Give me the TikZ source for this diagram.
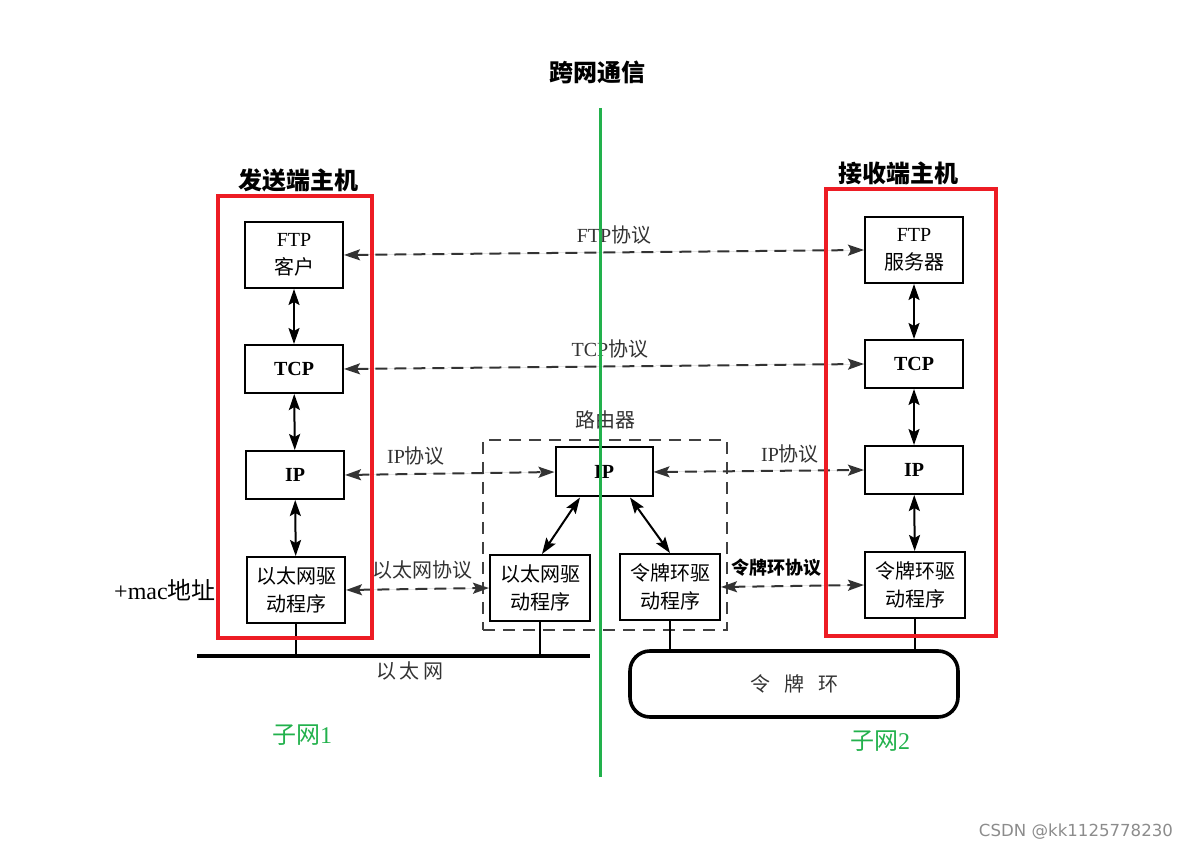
\documentclass[tikz,border=0pt]{standalone}
\usepackage{fontspec}
\setmainfont{Liberation Serif}
\newfontfamily\cjk{Noto Sans CJK SC}
\newfontfamily\wmfont{DejaVu Sans}
\usetikzlibrary{arrows.meta}
\newcommand{\zh}[1]{{\cjk #1}}
\definecolor{hostred}{RGB}{237,28,36}
\definecolor{netgreen}{RGB}{34,177,76}
\tikzset{
  layer/.style={draw, line width=1pt, fill=white, align=center, inner sep=0pt,
    minimum width=49pt, font=\fontsize{10}{14}\selectfont},
  tall/.style={layer, minimum height=33pt},
  flat/.style={layer, minimum height=24pt},
  link/.style={{Stealth[length=8pt,width=5.5pt,inset=1.5pt]}-{Stealth[length=8pt,width=5.5pt,inset=1.5pt]}, line width=1pt},
  proto/.style={link, draw=black!80, fill=black!80, dash pattern=on 6pt off 3.5pt},
  hostbox/.style={draw=hostred, line width=2pt},
  title/.style={font=\fontsize{12}{14}\selectfont\bfseries},
  lbl/.style={font=\fontsize{10}{12}\selectfont, text=black!80},
  subnet/.style={font=\fontsize{12}{14}\selectfont, text=netgreen}
}
\begin{document}
\begin{tikzpicture}[x=0.5pt, y=-0.5pt]
  \useasboundingbox (0,0) rectangle (1188,849);
  % titles
  \node[title] (cross) at (597,72) {\zh{跨网通信}};
  \node[title] (sendT) at (298,180) {\zh{发送端主机}};
  \node[title] (recvT) at (898,173) {\zh{接收端主机}};
  % sending host
  \node[tall] (ftpC) at (294,255) {FTP\\\zh{客户}};
  \node[flat] (tcpC) at (294,369) {\textbf{TCP}};
  \node[flat] (ipC) at (295,475) {\textbf{IP}};
  \node[tall] (ethC) at (296,590) {\zh{以太网驱}\\\zh{动程序}};
  \draw[link] (ftpC) -- (tcpC);
  \draw[link] (tcpC) -- (ipC);
  \draw[link] (ipC) -- (ethC);
  % router
  \node[draw, draw=black!75, line width=0.8pt, dash pattern=on 6pt off 4pt,
    minimum width=122pt, minimum height=95pt] (router) at (605,535) {};
  \node[lbl] (routerT) at (605,420) {\zh{路由器}};
  \node[flat, minimum width=48.5pt, minimum height=24.5pt] (ipR) at (604,472) {\textbf{IP}};
  \node[tall, minimum width=50pt] (ethR) at (540,588) {\zh{以太网驱}\\\zh{动程序}};
  \node[tall, minimum width=50pt] (trR) at (670,587) {\zh{令牌环驱}\\\zh{动程序}};
  \draw[link] ([xshift=-12pt]ipR.south) -- ([xshift=1pt]ethR.north);
  \draw[link] ([xshift=13pt]ipR.south) -- (trR.north);
  % receiving host
  \node[tall] (ftpS) at (914,250) {FTP\\\zh{服务器}};
  \node[flat] (tcpS) at (914,364) {\textbf{TCP}};
  \node[flat] (ipS) at (914,470) {\textbf{IP}};
  \node[tall, minimum width=50pt] (trS) at (915,585) {\zh{令牌环驱}\\\zh{动程序}};
  \draw[link] (ftpS) -- (tcpS);
  \draw[link] (tcpS) -- (ipS);
  \draw[link] (ipS) -- (trS);
  % peer protocols
  \draw[proto] (ftpC.east) -- (ftpS.west);
  \draw[proto] (tcpC.east) -- (tcpS.west);
  \draw[proto] (ipC.east) -- (ipR.west);
  \draw[proto] (ipR.east) -- (ipS.west);
  \draw[proto] (ethC.east) -- (ethR.west);
  \draw[proto] (trR.east) -- (trS.west);
  \node[lbl] (ftpP) at (614,235) {FTP\zh{协议}};
  \node[lbl] (tcpP) at (610,349) {TCP\zh{协议}};
  \node[lbl] (ipP1) at (416,456) {IP\zh{协议}};
  \node[lbl] (ipP2) at (790,454) {IP\zh{协议}};
  \node[lbl] (ethP) at (422,570) {\zh{以太网协议}};
  \node[font=\fontsize{9}{11}\selectfont\bfseries] (trP) at (776,568) {\zh{令牌环协议}};
  % ethernet
  \coordinate (busL) at (197,656);
  \coordinate (busR) at (590,656);
  \draw[line width=2pt] (busL) -- (busR);
  \draw[line width=0.8pt] (ethC.south) -- (ethC.south |- busL);
  \draw[line width=0.8pt] (ethR.south) -- (ethR.south |- busL);
  \node[lbl] (ethT) at (410,671) {\zh{以\,太\,网}};
  % token ring
  \node[draw, line width=1.8pt, rounded corners=10pt, minimum width=164pt,
    minimum height=33pt, lbl] (ring) at (794,684) {\zh{令\hspace{7pt}牌\hspace{7pt}环}};
  \draw[line width=0.8pt] (trR.south) -- (trR.south |- ring.north);
  \draw[line width=0.8pt] (trS.south) -- (trS.south |- ring.north);
  % notes
  \node[font=\fontsize{12}{14}\selectfont] (mac) at (165,590) {+mac\zh{地址}};
  \node[subnet] (net1) at (302,735) {\zh{子网}1};
  \node[subnet] (net2) at (880,741) {\zh{子网}2};
  % hosts
  \node[hostbox, minimum width=77pt, minimum height=221pt] (sendH) at (295,417) {};
  \node[hostbox, minimum width=85pt, minimum height=223.5pt] (recvH) at (911,412.5) {};
  % divider
  \coordinate (divT) at (600,108);
  \coordinate (divB) at (600,777);
  \draw[netgreen, line width=1.5pt] (divT) -- (divB);
  \node[font=\wmfont\fontsize{8.3}{10}\selectfont, text=black!45] (mark) at (1076,832) {CSDN @kk1125778230};
\end{tikzpicture}
\end{document}
